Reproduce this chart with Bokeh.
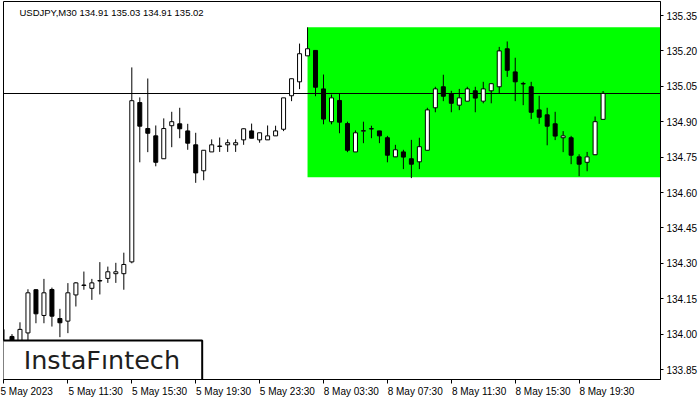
from bokeh.plotting import figure
from bokeh.models import (ColumnDataSource, FixedTicker, Label, Range1d,
                          NumeralTickFormatter)
from bokeh.core.properties import value
from bokeh.embed import file_html
from bokeh.resources import INLINE

# ---- USDJPY M30, 5 May 2023 07:30 -> 8 May 2023 21:00 ----
symbol = "USDJPY,M30"
opens = [133.97, 133.99, 133.96, 134.005, 134.188, 134.079, 134.189, 134.066,
         134.055, 134.166, 134.206, 134.194, 134.225, 134.236, 134.256, 134.256,
         134.306, 134.981, 134.871, 134.840, 134.743, 134.883, 134.891, 134.861,
         134.802, 134.692, 134.772, 134.795, 134.802, 134.802, 134.823, 134.861,
         134.823, 134.823, 134.840, 134.868, 135.010, 135.069, 135.179, 135.202,
         135.039, 134.900, 134.990, 134.892, 134.772, 134.860, 134.869, 134.861,
         134.832, 134.751, 134.772, 134.743, 134.730, 134.779, 134.959, 135.048,
         135.017, 134.970, 134.987, 135.031, 134.987, 135.031, 135.048, 135.209,
         135.111, 135.060, 135.048, 134.950, 134.929, 134.891, 134.832, 134.832,
         134.751, 134.728, 134.760, 134.91]
highs = [134.02, 134.00, 134.05, 134.19, 134.19, 134.234, 134.197, 134.107,
         134.216, 134.22, 134.265, 134.234, 134.305, 134.286, 134.302, 134.345,
         135.130, 135.003, 135.083, 134.884, 134.914, 134.942, 134.959, 134.891,
         134.853, 134.780, 134.825, 134.833, 134.825, 134.825, 134.871, 134.892,
         134.853, 134.884, 134.883, 135.001, 135.082, 135.231, 135.300, 135.202,
         135.100, 135.015, 135.018, 134.900, 134.863, 134.900, 134.883, 134.861,
         134.840, 134.802, 134.781, 134.823, 134.832, 134.959, 135.048, 135.099,
         135.031, 135.039, 135.048, 135.048, 135.069, 135.061, 135.217, 135.240,
         135.171, 135.069, 135.069, 135.010, 134.959, 134.942, 134.860, 134.840,
         134.762, 134.772, 134.922, 135.03]
lows = [133.93, 133.94, 133.94, 133.975, 134.046, 134.046, 134.032, 133.987,
        134.004, 134.117, 134.188, 134.145, 134.168, 134.217, 134.217, 134.188,
        134.300, 134.728, 134.771, 134.711, 134.743, 134.792, 134.830, 134.781,
        134.641, 134.652, 134.772, 134.772, 134.772, 134.772, 134.802, 134.830,
        134.811, 134.823, 134.840, 134.860, 134.987, 135.038, 135.179, 135.008,
        134.889, 134.889, 134.851, 134.771, 134.772, 134.809, 134.830, 134.809,
        134.728, 134.751, 134.699, 134.661, 134.699, 134.779, 134.940, 134.987,
        134.940, 134.949, 134.987, 134.940, 134.978, 134.978, 135.018, 135.090,
        134.987, 134.970, 134.911, 134.891, 134.800, 134.822, 134.771, 134.720,
        134.669, 134.690, 134.760, 134.91]
closes = [133.96, 133.96, 134.02, 134.175, 134.086, 134.175, 134.076, 134.048,
          134.175, 134.217, 134.208, 134.217, 134.227, 134.264, 134.264, 134.295,
          134.989, 134.881, 134.851, 134.728, 134.871, 134.900, 134.870, 134.809,
          134.683, 134.779, 134.802, 134.797, 134.811, 134.811, 134.870, 134.830,
          134.853, 134.840, 134.861, 135.001, 135.082, 135.188, 135.209, 135.046,
          134.911, 135.001, 134.898, 134.779, 134.853, 134.862, 134.871, 134.840,
          134.758, 134.781, 134.750, 134.720, 134.794, 134.950, 135.039, 135.008,
          134.978, 135.001, 135.039, 135.000, 135.039, 135.061, 135.200, 135.118,
          135.069, 135.062, 134.940, 134.919, 134.881, 134.839, 134.840, 134.758,
          134.720, 134.751, 134.900, 135.02]

time_tick_bars = [0, 8, 16, 24, 32, 40, 48, 56, 64, 72]
time_tick_labels = ["5 May 2023", "5 May 11:30", "5 May 15:30", "5 May 19:30",
                    "5 May 23:30", "8 May 03:30", "8 May 07:30", "8 May 11:30",
                    "8 May 15:30", "8 May 19:30"]
price_ticks = [133.85, 134.00, 134.15, 134.30, 134.45, 134.60, 134.75,
               134.90, 135.05, 135.20, 135.35]

# rectangle pattern (range zone)
zone_start_bar = 38
zone_low = 134.665
zone_high = 135.30
last_price = closes[-1]

# ---- layout ----
W, H = 700, 400
B_LEFT, B_RIGHT, B_TOP, B_BOTTOM = 3, 39, 1, 21
frame_w = W - B_LEFT - B_RIGHT
frame_h = H - B_TOP - B_BOTTOM
PX_PER_BAR = 8.0
PX_PER_PRICE = 236.0
x_start = -0.0625
x_end = x_start + frame_w / PX_PER_BAR
y_top = 135.35 + 14 / PX_PER_PRICE
y_bottom = y_top - frame_h / PX_PER_PRICE


def sx(px):
    """canvas x pixel -> bar coordinate"""
    return x_start + (px - B_LEFT) / PX_PER_BAR


def sy(py):
    """canvas y pixel -> price coordinate"""
    return y_top - (py - B_TOP) / PX_PER_PRICE


# Arial-like advance widths (em) used to left-align time labels on their tick:
# each label is preceded by no-break spaces of the same total width, so the
# centred axis label starts right at the tick.  The first label sits at the
# canvas edge, where the axis already pushes it inside.
ADV = {" ": 0.278, ":": 0.278, "M": 0.833, "a": 0.556, "y": 0.5}


def left_aligned(label):
    w = sum(ADV.get(ch, 0.556) for ch in label)
    return "\u00a0" * round(w / 0.278) + label


time_overrides = {b: (t if k == 0 else left_aligned(t))
                  for k, (b, t) in enumerate(zip(time_tick_bars, time_tick_labels))}

p = figure(width=W, height=H, output_backend="svg", toolbar_location=None,
           x_range=Range1d(x_start, x_end), y_range=Range1d(y_bottom, y_top),
           min_border_left=B_LEFT, min_border_right=B_RIGHT,
           min_border_top=B_TOP, min_border_bottom=B_BOTTOM,
           y_axis_location="right")
p.grid.visible = False
p.outline_line_color = "black"
p.outline_line_width = 1
p.background_fill_color = "white"
p.border_fill_color = "white"

AXIS_FONT = "Liberation Sans"
for ax in (p.xaxis[0], p.yaxis[0]):
    ax.axis_line_color = "black"
    ax.major_tick_line_color = "black"
    ax.major_tick_in = 0
    ax.major_tick_out = 3
    ax.minor_tick_line_color = None
    ax.major_label_text_font = AXIS_FONT
    ax.major_label_text_font_size = "10px"
    ax.major_label_text_color = "black"

p.yaxis.ticker = FixedTicker(ticks=price_ticks)
p.yaxis.formatter = NumeralTickFormatter(format="0.00")
p.yaxis.major_label_standoff = 3

p.xaxis.ticker = FixedTicker(ticks=time_tick_bars)
p.xaxis.major_label_overrides = time_overrides
p.xaxis.major_tick_out = 4
p.xaxis.major_label_standoff = 2

# green range zone
p.quad(left=[zone_start_bar], right=[x_end + 10], bottom=[zone_low], top=[zone_high],
       fill_color="#00ff00", line_color=None)

# current price line
p.hspan(y=[last_price], line_color="black", line_width=1)

# candles
bars = list(range(len(opens)))
src = ColumnDataSource(dict(
    x=bars, o=opens, h=highs, l=lows, c=closes,
    top=[max(o, c) for o, c in zip(opens, closes)],
    bottom=[min(o, c) for o, c in zip(opens, closes)],
    fill=["white" if c >= o else "black" for o, c in zip(opens, closes)],
))
p.segment(x0="x", y0="l", x1="x", y1="h", source=src, line_color="black", line_width=1)
p.vbar(x="x", width=0.5, top="top", bottom="bottom", source=src,
       fill_color="fill", line_color="black", line_width=1)

# header text
p.add_layout(Label(x=sx(19), y=sy(12), text=f"{symbol}  134.91 135.03 134.91 135.02",
                   text_font=AXIS_FONT, text_font_size="9.5px",
                   text_color="black", text_baseline="middle", text_align="left"))

# current price tag on the scale
p.add_layout(Label(x=x_end, y=last_price, x_offset=1, text=f"{last_price:.2f}",
                   text_font=AXIS_FONT, text_font_size="10px",
                   text_color="white", background_fill_color="black",
                   text_baseline="middle", text_align="left", padding=2))

# logo box
p.quad(left=[x_start - 1], right=[sx(202)], bottom=[y_bottom - 1], top=[sy(340)],
       fill_color="white", line_color="black", line_width=2)
p.text(x=[sx(101.5)], y=[sy(359.5)], text=["InstaFıntech"], text_font=value("DejaVu Sans"),
       text_font_size="25.5px", text_color="#1e1e1e", text_align="center",
       text_baseline="middle")

open("out.html", "w").write(file_html(p, INLINE))
